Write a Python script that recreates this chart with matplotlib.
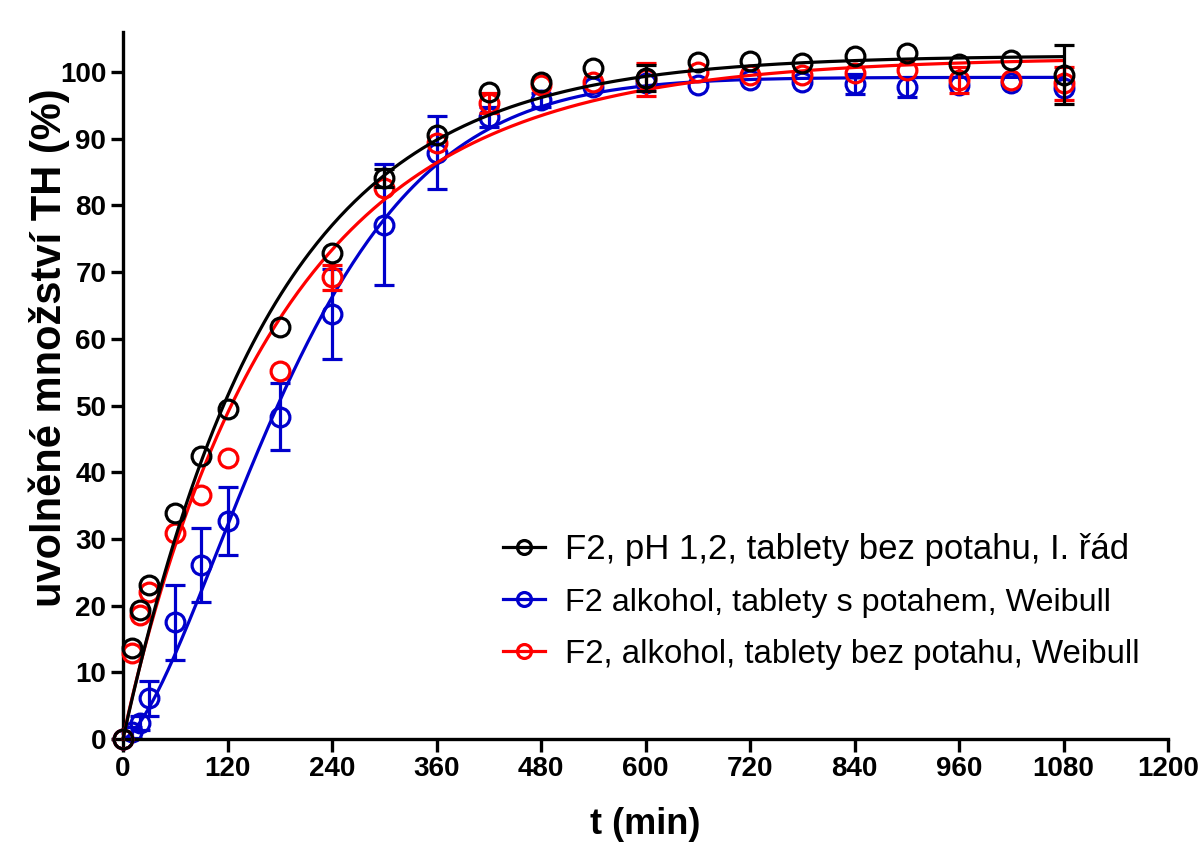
import numpy as np
import matplotlib
matplotlib.use("Agg")
import matplotlib.pyplot as plt
from matplotlib.lines import Line2D

plt.rcParams['font.family'] = ['Liberation Sans', 'DejaVu Sans']

# ---- data ----
t = [0, 10, 20, 30, 60, 90, 120, 180, 240, 300, 360, 420, 480, 540, 600,
     660, 720, 780, 840, 900, 960, 1020, 1080]

black = [0, 13.7, 19.3, 23.1, 33.9, 42.5, 49.5, 61.7, 72.9, 84.1, 90.6, 97.0,
         98.5, 100.6, 99.1, 101.5, 101.6, 101.3, 102.4, 102.8, 101.2, 101.8, 99.6]
black_sd = [0, 0, 0, 0, 0, 0, 0, 0, 0, 1.3, 0, 0, 0, 0, 1.9, 0, 0, 0, 0, 0, 0, 0, 4.4]

blue = [0, 1.0, 2.4, 6.1, 17.5, 26.1, 32.7, 48.3, 63.7, 77.1, 87.9, 93.3,
        95.8, 97.8, 98.4, 98.0, 98.8, 98.5, 98.2, 97.8, 98.0, 98.3, 97.6]
blue_sd = [0, 0.8, 1.0, 2.6, 5.6, 5.5, 5.1, 5.0, 6.8, 9.1, 5.5, 1.5, 1.0, 0, 0,
           0, 0, 0, 1.5, 1.5, 0, 0, 0]

red = [0, 12.9, 18.6, 22.0, 30.9, 36.6, 42.1, 55.1, 69.2, 82.6, 89.4, 95.4,
       98.0, 98.5, 98.9, 100.0, 99.6, 99.6, 99.8, 100.3, 98.8, 98.8, 98.3]
red_sd = [0, 0, 0, 0, 0, 0, 0, 0, 1.9, 0, 0, 1.5, 0, 0, 2.5, 0, 0, 0, 0, 0, 2.0, 0, 2.5]

# fitted model parameters
black_fmax, black_k = 102.5, 0.0058            # first order
blue_fmax, blue_td, blue_b = 99.2, 225.0, 1.5   # Weibull
red_fmax, red_td, red_b = 102.2, 188.0, 0.96    # Weibull

labels = ["F2, pH 1,2, tablety bez potahu, I. řád",
          "F2 alkohol, tablety s potahem, Weibull",
          "F2, alkohol, tablety bez potahu, Weibull"]
xticks = [0, 120, 240, 360, 480, 600, 720, 840, 960, 1080, 1200]
yticks = [0, 10, 20, 30, 40, 50, 60, 70, 80, 90, 100]

c_black, c_blue, c_red = "#000000", "#0000CC", "#FF0000"

# ---- figure ----
fig = plt.figure(figsize=(12.03, 8.42), dpi=100)
ax = fig.add_axes([123/1203, 1-739/842, (1168-123)/1203, (739-32)/842])

tf = np.linspace(0, 1080, 500)
fit_black = black_fmax * (1 - np.exp(-black_k * tf))
fit_blue = blue_fmax * (1 - np.exp(-(tf / blue_td) ** blue_b))
fit_red = red_fmax * (1 - np.exp(-(tf / red_td) ** red_b))

lw = 2.3
ms = 13.5
mew = 2.3

for y, sd, fit, col, z in [(blue, blue_sd, fit_blue, c_blue, 2),
                           (red, red_sd, fit_red, c_red, 3),
                           (black, black_sd, fit_black, c_black, 4)]:
    ax.plot(tf, fit, color=col, lw=lw, zorder=z, clip_on=False)
    tt = [a for a, s in zip(t, sd) if s > 0]
    yy = [b for b, s in zip(y, sd) if s > 0]
    ss = [s for s in sd if s > 0]
    ax.errorbar(tt, yy, yerr=ss, fmt='none', ecolor=col, elinewidth=lw,
                capsize=7, capthick=lw, zorder=z, clip_on=False)
    ax.plot(t, y, linestyle='none', marker='o', ms=ms, mfc='none', mec=col,
            mew=mew, zorder=z + 0.5, clip_on=False)

ax.set_xlim(0, 1200)
ax.set_ylim(0, 106)
ax.set_xticks(xticks)
ax.set_yticks(yticks)
for s in ['top', 'right']:
    ax.spines[s].set_visible(False)
for s in ['left', 'bottom']:
    ax.spines[s].set_linewidth(2.4)
ax.tick_params(axis='both', direction='out', length=9, width=2.4, pad=3,
               labelsize=20)
for lab in ax.get_xticklabels() + ax.get_yticklabels():
    lab.set_fontweight('bold')

ax.set_xlabel("t (min)", fontsize=26, fontweight='bold', labelpad=18)
ax.set_ylabel("uvolněné množství TH (%)", fontsize=30, fontweight='bold')
ax.yaxis.set_label_coords((70 - 123) / 1045, (739 - 348) / 707)

handles = [Line2D([], [], color=c, lw=lw, marker='o', ms=10, mfc='none',
                  mec=c, mew=mew) for c in (c_black, c_blue, c_red)]
leg = ax.legend(handles, labels, loc='upper left',
                bbox_to_anchor=(503/1203, 1-533/842),
                bbox_transform=fig.transFigure, frameon=False, fontsize=25,
                handlelength=1.2, handletextpad=0.58, labelspacing=0.6,
                borderpad=0, borderaxespad=0)
for txt, fs in zip(leg.get_texts(), [25, 23.3, 23.8]):
    txt.set_fontsize(fs)

fig.savefig("out.png", dpi=100)
